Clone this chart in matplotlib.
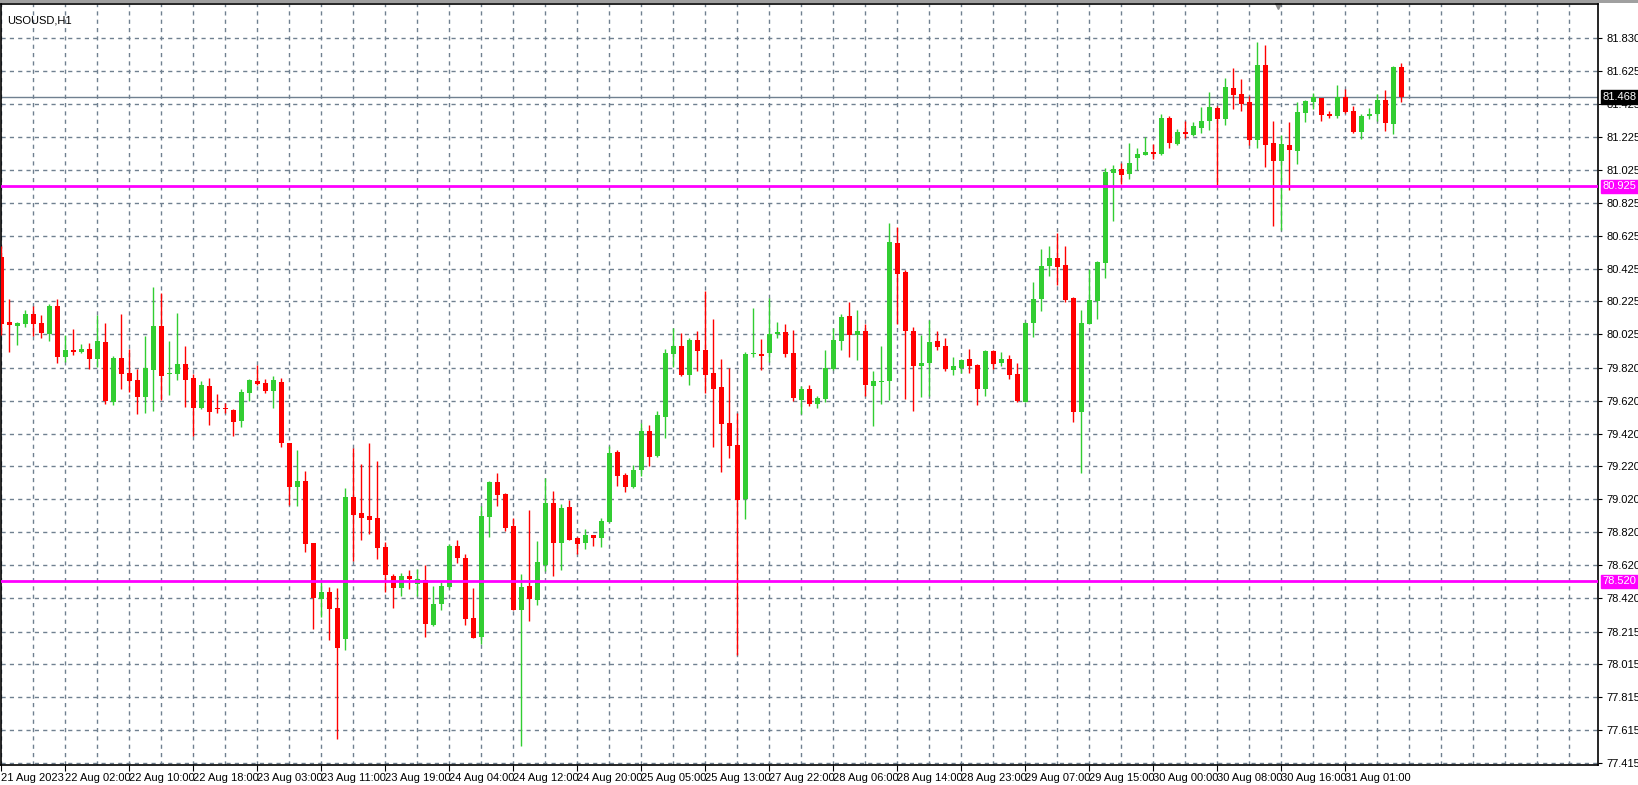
import matplotlib
matplotlib.use('Agg')
import matplotlib.pyplot as plt
from matplotlib.patches import Rectangle

# OHLC of USOUSD H1 candles
opens = [80.494, 80.098, 80.076, 80.088, 80.146, 80.092, 80.027, 80.195, 79.888, 79.928,
         79.918, 79.934, 79.876, 79.977, 79.615, 79.880, 79.789, 79.746, 79.645, 79.809,
         80.074, 79.785, 79.785, 79.843, 79.758, 79.579, 79.710, 79.577, 79.568, 79.564,
         79.494, 79.670, 79.740, 79.728, 79.680, 79.734, 79.364, 79.094, 79.134, 78.752,
         78.415, 78.456, 78.359, 78.167, 79.037, 78.934, 78.916, 78.904, 78.728, 78.553,
         78.482, 78.553, 78.506, 78.530, 78.258, 78.381, 78.488, 78.736, 78.664, 78.300,
         78.185, 78.912, 79.124, 79.051, 78.857, 78.348, 78.494, 78.409, 78.621, 78.997,
         78.754, 78.973, 78.787, 78.754, 78.803, 78.785, 78.882, 79.306, 79.167, 79.094,
         79.197, 79.439, 79.282, 79.524, 79.906, 79.956, 79.775, 79.987, 79.932, 79.787,
         79.702, 79.484, 79.350, 79.023, 79.902, 79.904, 79.910, 80.025, 80.041, 79.908,
         79.623, 79.690, 79.599, 79.629, 79.811, 79.981, 80.138, 80.023, 80.047, 79.708,
         79.736, 79.738, 80.581, 80.405, 80.047, 79.829, 79.851, 79.981, 79.956, 79.807,
         79.819, 79.872, 79.837, 79.692, 79.920, 79.849, 79.872, 79.781, 79.613, 80.096,
         80.241, 80.441, 80.490, 80.447, 80.247, 79.552, 80.090, 80.229, 80.459, 81.005,
         81.029, 80.998, 81.095, 81.117, 81.135, 81.123, 81.341, 81.184, 81.256, 81.238,
         81.281, 81.325, 81.402, 81.335, 81.523, 81.487, 81.438, 81.208, 81.662, 81.190,
         81.081, 81.178, 81.141, 81.372, 81.438, 81.462, 81.365, 81.353, 81.468, 81.381,
         81.255, 81.352, 81.364, 81.453, 81.304, 81.653]
highs = [80.564, 80.237, 80.100, 80.170, 80.195, 80.140, 80.207, 80.237, 80.019, 80.055,
         79.964, 79.970, 80.140, 80.092, 79.894, 80.146, 79.936, 79.815, 80.015, 80.310,
         80.276, 79.985, 80.152, 79.952, 79.785, 79.740, 79.758, 79.663, 79.609, 79.568,
         79.690, 79.752, 79.837, 79.752, 79.770, 79.758, 79.364, 79.322, 79.195, 78.752,
         78.522, 78.488, 78.480, 79.086, 79.330, 79.237, 79.364, 79.255, 78.758, 78.565,
         78.571, 78.589, 78.599, 78.621, 78.494, 78.516, 78.750, 78.773, 78.688, 78.482,
         78.979, 79.130, 79.179, 79.057, 78.906, 78.567, 78.954, 78.767, 79.148, 79.070,
         78.991, 79.015, 78.791, 78.839, 78.803, 78.906, 79.342, 79.318, 79.179, 79.227,
         79.482, 79.470, 79.560, 79.936, 80.063, 80.033, 80.005, 80.047, 80.290, 80.120,
         79.872, 79.817, 79.548, 79.914, 80.187, 79.993, 80.243, 80.102, 80.090, 80.053,
         79.708, 79.714, 79.647, 79.926, 80.065, 80.150, 80.223, 80.175, 80.090, 79.799,
         79.956, 80.702, 80.678, 80.417, 80.072, 80.023, 80.114, 80.047, 80.005, 79.886,
         79.872, 79.938, 79.843, 79.932, 79.926, 79.914, 79.896, 79.847, 80.100, 80.344,
         80.544, 80.562, 80.641, 80.562, 80.253, 80.175, 80.423, 80.470, 81.035, 81.053,
         81.065, 81.190, 81.159, 81.226, 81.184, 81.365, 81.353, 81.274, 81.323, 81.317,
         81.408, 81.499, 81.414, 81.584, 81.644, 81.578, 81.474, 81.802, 81.784, 81.323,
         81.238, 81.317, 81.438, 81.450, 81.493, 81.465, 81.384, 81.541, 81.517, 81.417,
         81.368, 81.399, 81.490, 81.514, 81.655, 81.678]
lows = [80.019, 79.918, 79.958, 80.070, 80.015, 80.003, 79.985, 79.851, 79.857, 79.900,
        79.912, 79.815, 79.827, 79.603, 79.597, 79.694, 79.676, 79.542, 79.548, 79.560,
        79.625, 79.657, 79.748, 79.585, 79.403, 79.571, 79.470, 79.548, 79.544, 79.403,
        79.463, 79.621, 79.716, 79.667, 79.577, 79.340, 78.985, 78.979, 78.700, 78.233,
        78.302, 78.161, 77.561, 78.100, 78.645, 78.773, 78.809, 78.657, 78.454, 78.361,
        78.433, 78.476, 78.433, 78.185, 78.252, 78.349, 78.482, 78.633, 78.258, 78.173,
        78.142, 78.791, 78.979, 78.827, 78.348, 77.520, 78.282, 78.379, 78.585, 78.554,
        78.591, 78.770, 78.688, 78.718, 78.736, 78.730, 78.880, 79.100, 79.064, 79.090,
        79.160, 79.221, 79.276, 79.391, 79.827, 79.771, 79.714, 79.799, 79.666, 79.338,
        79.187, 79.272, 78.075, 78.902, 79.886, 79.805, 79.855, 80.001, 79.886, 79.617,
        79.538, 79.587, 79.575, 79.611, 79.809, 79.926, 79.884, 79.866, 79.647, 79.466,
        79.599, 79.623, 80.090, 79.629, 79.559, 79.643, 79.649, 79.928, 79.801, 79.777,
        79.789, 79.789, 79.595, 79.649, 79.813, 79.831, 79.752, 79.613, 79.611, 80.011,
        80.169, 80.381, 80.326, 80.223, 79.492, 79.180, 80.088, 80.120, 80.369, 80.714,
        80.938, 80.967, 81.024, 81.113, 81.093, 81.117, 81.159, 81.178, 81.220, 81.232,
        81.250, 81.268, 80.931, 81.299, 81.396, 81.384, 81.178, 81.159, 81.044, 80.681,
        80.662, 80.905, 81.062, 81.317, 81.396, 81.323, 81.341, 81.341, 81.371, 81.249,
        81.213, 81.334, 81.322, 81.261, 81.243, 81.437]
closes = [80.086, 80.082, 80.092, 80.146, 80.088, 80.033, 80.195, 79.888, 79.928, 79.918,
          79.934, 79.876, 79.983, 79.621, 79.880, 79.785, 79.742, 79.645, 79.821, 80.074,
          79.773, 79.787, 79.843, 79.748, 79.579, 79.716, 79.554, 79.567, 79.567, 79.488,
          79.674, 79.746, 79.722, 79.680, 79.746, 79.364, 79.094, 79.134, 78.748, 78.421,
          78.456, 78.354, 78.118, 79.037, 78.924, 78.906, 78.894, 78.724, 78.561, 78.482,
          78.553, 78.536, 78.534, 78.264, 78.383, 78.492, 78.734, 78.660, 78.294, 78.179,
          78.918, 79.124, 79.045, 78.845, 78.348, 78.488, 78.415, 78.639, 78.997, 78.754,
          78.966, 78.773, 78.748, 78.803, 78.785, 78.888, 79.300, 79.160, 79.094, 79.197,
          79.439, 79.276, 79.536, 79.912, 79.954, 79.775, 79.987, 79.920, 79.775, 79.690,
          79.478, 79.344, 79.017, 79.902, 79.904, 79.894, 80.027, 80.041, 79.902, 79.635,
          79.690, 79.599, 79.635, 79.817, 79.987, 80.132, 80.023, 80.047, 79.714, 79.738,
          79.738, 80.587, 80.393, 80.043, 79.831, 79.847, 79.975, 79.946, 79.813, 79.829,
          79.866, 79.831, 79.692, 79.920, 79.843, 79.872, 79.777, 79.619, 80.096, 80.241,
          80.441, 80.490, 80.435, 80.235, 79.552, 80.096, 80.235, 80.466, 81.011, 81.029,
          80.993, 81.066, 81.121, 81.135, 81.123, 81.341, 81.190, 81.256, 81.244, 81.293,
          81.325, 81.408, 81.335, 81.529, 81.481, 81.426, 81.208, 81.662, 81.178, 81.081,
          81.184, 81.147, 81.378, 81.444, 81.468, 81.359, 81.353, 81.468, 81.377, 81.253,
          81.356, 81.368, 81.453, 81.310, 81.653, 81.467]

time_labels = ["21 Aug 2023", "22 Aug 02:00", "22 Aug 10:00", "22 Aug 18:00", "23 Aug 03:00",
               "23 Aug 11:00", "23 Aug 19:00", "24 Aug 04:00", "24 Aug 12:00", "24 Aug 20:00",
               "25 Aug 05:00", "25 Aug 13:00", "27 Aug 22:00", "28 Aug 06:00", "28 Aug 14:00",
               "28 Aug 23:00", "29 Aug 07:00", "29 Aug 15:00", "30 Aug 00:00", "30 Aug 08:00",
               "30 Aug 16:00", "31 Aug 01:00"]
price_ticks = [81.830, 81.625, 81.425, 81.225, 81.025, 80.825, 80.625, 80.425, 80.225, 80.025,
               79.820, 79.620, 79.420, 79.220, 79.020, 78.820, 78.620, 78.420, 78.215, 78.015,
               77.815, 77.615, 77.415]
last_price = 81.468
levels = [80.925, 78.520]

UP = '#32CD32'
DOWN = '#FF0000'
GRID = '#708090'

plt.rcParams['font.family'] = ['Liberation Sans', 'DejaVu Sans']
fig = plt.figure(figsize=(16.38, 7.85), dpi=100)
ax = fig.add_axes([1 / 1638, 20 / 785, 1597 / 1638, 761 / 785])

n = len(opens)
for i in range(n):
    col = UP if closes[i] >= opens[i] else DOWN
    ax.vlines(i, lows[i], highs[i], color=col, lw=1, zorder=3)
    lo = min(opens[i], closes[i])
    hgt = max(abs(closes[i] - opens[i]), 0.006)
    ax.bar(i, hgt, bottom=lo, width=0.6, color=col, lw=0, zorder=4)

ax.set_xlim(-0.04, 199.6)
ax.set_ylim(77.403, 82.035)

# grid: dashed, vertical every 4 bars, horizontal at price ticks
for x in range(0, 200, 4):
    ax.axvline(x, color=GRID, lw=1, ls=(0, (3, 3)), zorder=1)
for p in price_ticks:
    ax.axhline(p, color=GRID, lw=1, ls=(0, (3, 3)), zorder=1)

ax.axhline(last_price, color=GRID, lw=1, zorder=2)
for lv in levels:
    ax.axhline(lv, color='#FF00FF', lw=2, zorder=5)

ax.set_xticks(range(0, 8 * len(time_labels), 8))
ax.set_xticklabels(time_labels, fontsize=8)
for lab in ax.get_xticklabels():
    lab.set_ha('left')
ax.tick_params(axis='x', length=4, pad=2, direction='out')
ax.yaxis.tick_right()
ax.set_yticks(price_ticks)
ax.set_yticklabels(['%.3f' % p for p in price_ticks], fontsize=8)
ax.tick_params(axis='y', length=3, pad=3)
for s in ax.spines.values():
    s.set_color('black')
    s.set_linewidth(1.2)

# price boxes on the right axis
def tag(price, bg):
    ax.annotate('%.3f' % price, xy=(1.0, price), xycoords=('axes fraction', 'data'),
                xytext=(3, 0), textcoords='offset points', va='center', ha='left',
                fontsize=8, color='white',
                bbox=dict(boxstyle='square,pad=0.15', fc=bg, ec=bg))

tag(last_price, 'black')
for lv in levels:
    tag(lv, '#FF00FF')

ax.text(0.004, 0.985, 'USOUSD,H1', transform=ax.transAxes, fontsize=8, va='top', ha='left')
# shift marker at top
ax.plot([1277 / 1597], [0.997], marker='v', color='#8a8a8a', ms=5,
        transform=ax.transAxes, clip_on=False)
fig.add_artist(Rectangle((0, 1 - 3 / 785), 1, 3 / 785, transform=fig.transFigure,
                         color='#a0a0a0', lw=0))

fig.savefig('out.png', dpi=100)
